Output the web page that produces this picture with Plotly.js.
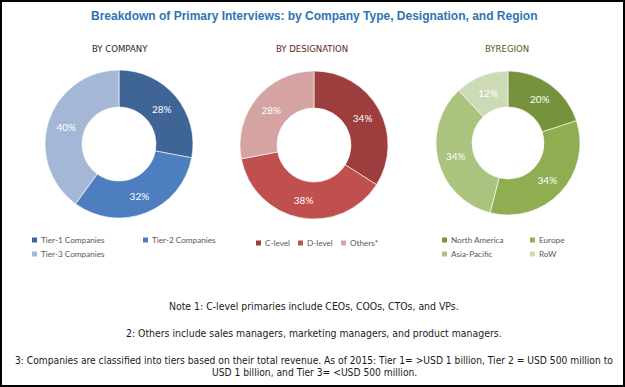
<!DOCTYPE html>
<html><head><meta charset="utf-8">
<script src="https://cdn.plot.ly/plotly-3.0.1.min.js"></script>
<style>
body{margin:0;background:#fff;}
#wrap{position:relative;width:625px;height:387px;}
#chart{position:absolute;left:0;top:0;width:625px;height:387px;}
#frame{position:absolute;left:0;top:0;width:625px;height:387px;box-sizing:border-box;border:2px solid #000;pointer-events:none;}
</style>
</head><body>
<div id="wrap"><div id="chart"></div><div id="frame"></div></div>
<script>
// ---- data ----
const companyLabels = ['Tier-1 Companies', 'Tier-2 Companies', 'Tier-3 Companies'];
const companyValues = [28, 32, 40];
const designationLabels = ['C-level', 'D-level', 'Others*'];
const designationValues = [34, 38, 28];
const regionLabels = ['North America', 'Europe', 'Asia-Pacific', 'RoW'];
const regionValues = [20, 34, 34, 12];
const chartTitle = 'Breakdown of Primary Interviews: by Company Type, Designation, and Region';
const subTitles = ['BY COMPANY', 'BY DESIGNATION', 'BYREGION'];
const notes = [
  'Note 1: C-level primaries include CEOs, COOs, CTOs, and VPs.',
  '2: Others include sales managers, marketing managers, and product managers.',
  '3: Companies are classified into tiers based on their total revenue. As of 2015: Tier 1= >USD 1 billion, Tier 2 = USD 500 million to',
  'USD 1 billion, and Tier 3= <USD 500 million.'
];

// ---- styles ----
const companyColors = ['#3F6597', '#4D7EBF', '#A5B7D7'];
const designationColors = ['#9E3D3D', '#C0504D', '#D6A3A3'];
const regionColors = ['#76923C', '#8FAE52', '#AAC47F', '#CCDAB5'];
const W = 625, H = 387;
const px = x => x / W;
const py = y => 1 - y / H;
const narrow = '"DejaVu Sans Condensed", "Liberation Sans Narrow", "Arial Narrow", sans-serif';
const legFont = 'Lato, "Open Sans", sans-serif';

function pie(labels, values, colors, cx, cy, r) {
  return {
    type: 'pie', labels: labels, values: values, sort: false, direction: 'clockwise', rotation: 0,
    hole: 0.5,
    marker: {colors: colors, line: {color: '#ffffff', width: 0.6}},
    texttemplate: '%{value}%', textposition: 'inside', insidetextorientation: 'horizontal',
    textfont: {color: '#ffffff', size: 10, family: legFont},
    domain: {x: [px(cx - r), px(cx + r)], y: [py(cy + r), py(cy - r)]},
    showlegend: false, hoverinfo: 'label+percent'
  };
}

const data = [
  pie(companyLabels, companyValues, companyColors, 119, 144, 74),
  pie(designationLabels, designationValues, designationColors, 314, 145, 74),
  pie(regionLabels, regionValues, regionColors, 508, 143, 72)
];

const annotations = [];
const shapes = [];
function ann(text, x, y, opts) {
  annotations.push(Object.assign({text: text, x: px(x), y: py(y), xref: 'paper', yref: 'paper',
    showarrow: false, xanchor: 'center', yanchor: 'middle'}, opts || {}));
}
ann('<b>' + chartTitle + '</b>', 314, 16, {font: {family: '"Liberation Sans", Arial, sans-serif', size: 12, color: '#2E74B5'}});
const subPos = [[120, 48, '#262626'], [312, 48, '#5E2422'], [507, 48, '#4F5A25']];
subTitles.forEach((t, i) => ann(t, subPos[i][0], subPos[i][1], {font: {family: narrow, size: 9.5, color: subPos[i][2]}}));

const noteY = [306, 333, 360, 372];
const noteSize = [10.4, 10.4, 10.2, 10.2];
notes.forEach((t, i) => ann(t, 314, noteY[i], {font: {family: narrow, size: noteSize[i], color: '#1a1a1a'}}));

function legend(labels, colors, positions) {
  labels.forEach((l, i) => {
    const [mx, my] = positions[i];
    shapes.push({type: 'rect', xref: 'paper', yref: 'paper', x0: px(mx), x1: px(mx + 5), y0: py(my + 2.5), y1: py(my - 2.5),
      fillcolor: colors[i], line: {width: 0}});
    ann(l, mx + 7, my, {xanchor: 'left', font: {family: legFont, size: 8.2, color: '#595959'}});
  });
}
legend(companyLabels, companyColors, [[32, 240], [143, 240], [32, 254]]);
legend(designationLabels, designationColors, [[256, 243], [298, 243], [341, 243]]);
legend(regionLabels, regionColors, [[442, 240], [530, 240], [442, 254], [530, 254]]);

const layout = {
  width: W, height: H, margin: {l: 0, r: 0, t: 0, b: 0},
  paper_bgcolor: '#ffffff', plot_bgcolor: '#ffffff',
  showlegend: false, annotations: annotations, shapes: shapes
};
Plotly.newPlot('chart', data, layout, {displayModeBar: false, staticPlot: true});
</script>
</body></html>
